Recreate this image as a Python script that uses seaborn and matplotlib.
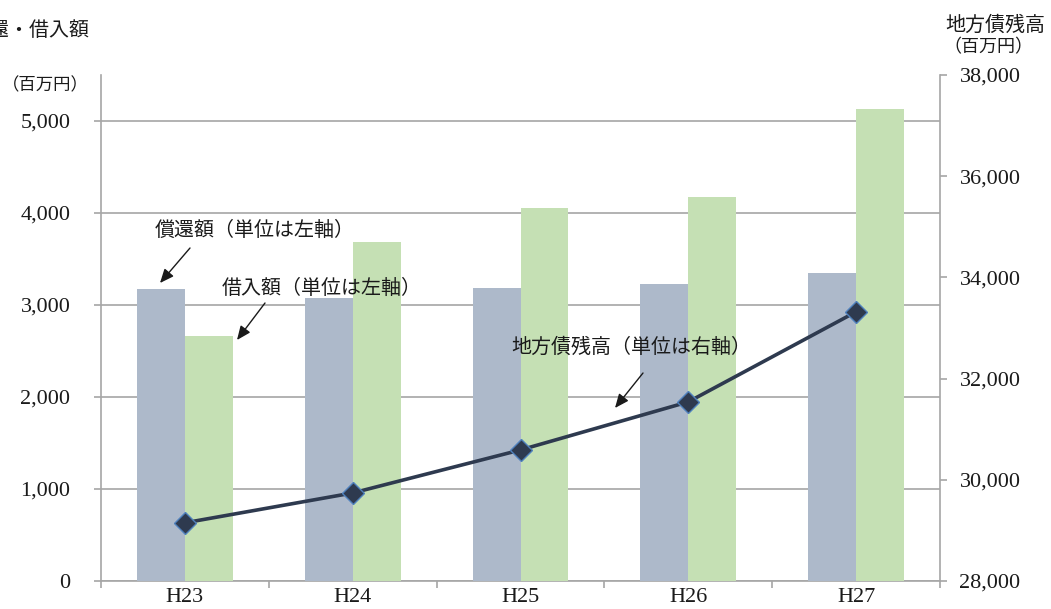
import numpy as np
import pandas as pd
import matplotlib
matplotlib.use("Agg")
import matplotlib.pyplot as plt
from matplotlib.ticker import FixedLocator, FuncFormatter
import seaborn as sns

# ---- data ----
years = ["H23", "H24", "H25", "H26", "H27"]
repayment = [3170, 3075, 3185, 3225, 3345]      # 償還額 (left axis)
borrowing = [2665, 3685, 4055, 4175, 5130]      # 借入額 (left axis)
debt_balance = [29150, 29740, 30590, 31540, 33320]  # 地方債残高 (right axis)
left_ticks = [0, 1000, 2000, 3000, 4000, 5000]
right_ticks = [28000, 30000, 32000, 34000, 36000, 38000]
series_names = ["償還額", "借入額"]

sns.set_theme(style="white")
plt.rcParams['font.family'] = ['Noto Sans CJK JP', 'DejaVu Sans']

W, H = 1051, 609
fig = plt.figure(figsize=(W / 100, H / 100), dpi=100)
ax = fig.add_axes([101 / W, 1 - 581 / H, (940 - 101) / W, (581 - 75) / H])
ax2 = ax.twinx()

df = pd.DataFrame({
    "year": years * 2,
    "value": repayment + borrowing,
    "series": [series_names[0]] * len(years) + [series_names[1]] * len(years),
})

grid_c = "#a6a6a6"
sns.barplot(data=df, x="year", y="value", hue="series", ax=ax,
            palette=["#adb9ca", "#c5e0b4"], width=0.57, gap=0,
            linewidth=0, saturation=1, legend=False, zorder=3)

sns.pointplot(x=years, y=debt_balance, ax=ax2, color="#2e3a4f",
              markers="D", markersize=11, linewidth=2.6, errorbar=None)
for ln in ax2.lines:
    ln.set_markeredgecolor("#4f81bd")
    ln.set_markeredgewidth(1.0)

# left axis
ax.set_ylim(0, 5500)
ax.yaxis.set_major_locator(FixedLocator(left_ticks))
ax.yaxis.set_major_formatter(FuncFormatter(lambda v, p: f"{int(v):,}"))
ax.grid(axis="y", color=grid_c, linewidth=1.2, zorder=0)
ax.set_axisbelow(True)
ax.set_xlim(-0.5, len(years) - 0.5)
ax.set_xlabel("")
ax.set_ylabel("")

# right axis
ax2.set_ylim(28000, 38000)
ax2.yaxis.set_major_locator(FixedLocator(right_ticks))
ax2.yaxis.set_major_formatter(FuncFormatter(lambda v, p: f"{int(v):,}"))
ax2.set_ylabel("")
ax2.set_xlabel("")
ax2.grid(False)

# x ticks: labels at centers, tick marks at boundaries
ax.set_xticks(range(len(years)))
ax.set_xticklabels(years)
ax.set_xticks(np.arange(-0.5, len(years), 1.0), minor=True)
ax.tick_params(axis="x", which="major", length=0, pad=5)
ax.tick_params(axis="x", which="minor", length=5, width=1.2, color=grid_c, direction="out", bottom=True)
ax.tick_params(axis="y", which="major", length=5, width=1.2, color=grid_c, direction="out", left=True, pad=17)
ax2.tick_params(axis="y", which="major", length=5, width=1.2, color=grid_c, direction="out", right=True, pad=9)

for lab in ax.get_yticklabels() + ax2.get_yticklabels() + ax.get_xticklabels():
    lab.set_fontfamily("Liberation Serif")
    lab.set_fontsize(16)
    lab.set_color("#1a1a1a")

for a in (ax, ax2):
    a.spines["top"].set_visible(False)
    for s in ("left", "right", "bottom"):
        a.spines[s].set_color(grid_c)
        a.spines[s].set_linewidth(1.2)
ax.spines["right"].set_visible(False)
ax2.spines["left"].set_visible(False)
ax2.spines["bottom"].set_visible(False)
ax2.set_zorder(ax.get_zorder() + 1)
ax2.patch.set_visible(False)

def fx(x):
    return x / W

def fy(y):
    return 1 - y / H

jp = ['Noto Sans CJK JP', 'DejaVu Sans']
tc = "#1a1a1a"
fig.text(fx(90), fy(30), "償還・借入額", ha="right", va="center", fontsize=14.4, family=jp, color=tc)
fig.text(fx(89), fy(85), "（百万円）", ha="right", va="center", fontsize=12.5, family=jp, color=tc)
fig.text(fx(995), fy(25), "地方債残高", ha="center", va="center", fontsize=14.4, family=jp, color=tc)
fig.text(fx(988), fy(47), "（百万円）", ha="center", va="center", fontsize=13, family=jp, color=tc)

notes = [
    ("償還額（単位は左軸）", 155, 230, (190, 248), (160, 283)),
    ("借入額（単位は左軸）", 222, 288, (265, 303), (237, 340)),
    ("地方債残高（単位は右軸）", 511, 347, (643, 373), (615, 408)),
]
for text, tx, ty, p0, p1 in notes:
    fig.text(fx(tx), fy(ty), text, ha="left", va="center", fontsize=14.4, family=jp, color=tc)
    ax.annotate("", xy=(fx(p1[0]), fy(p1[1])), xycoords="figure fraction",
                xytext=(fx(p0[0]), fy(p0[1])), textcoords="figure fraction",
                arrowprops=dict(arrowstyle="-|>,head_length=0.7,head_width=0.3",
                                color="#1a1a1a", lw=1.0, shrinkA=0, shrinkB=0),
                annotation_clip=False, zorder=10)

fig.savefig("out.png", dpi=100, facecolor="white")
